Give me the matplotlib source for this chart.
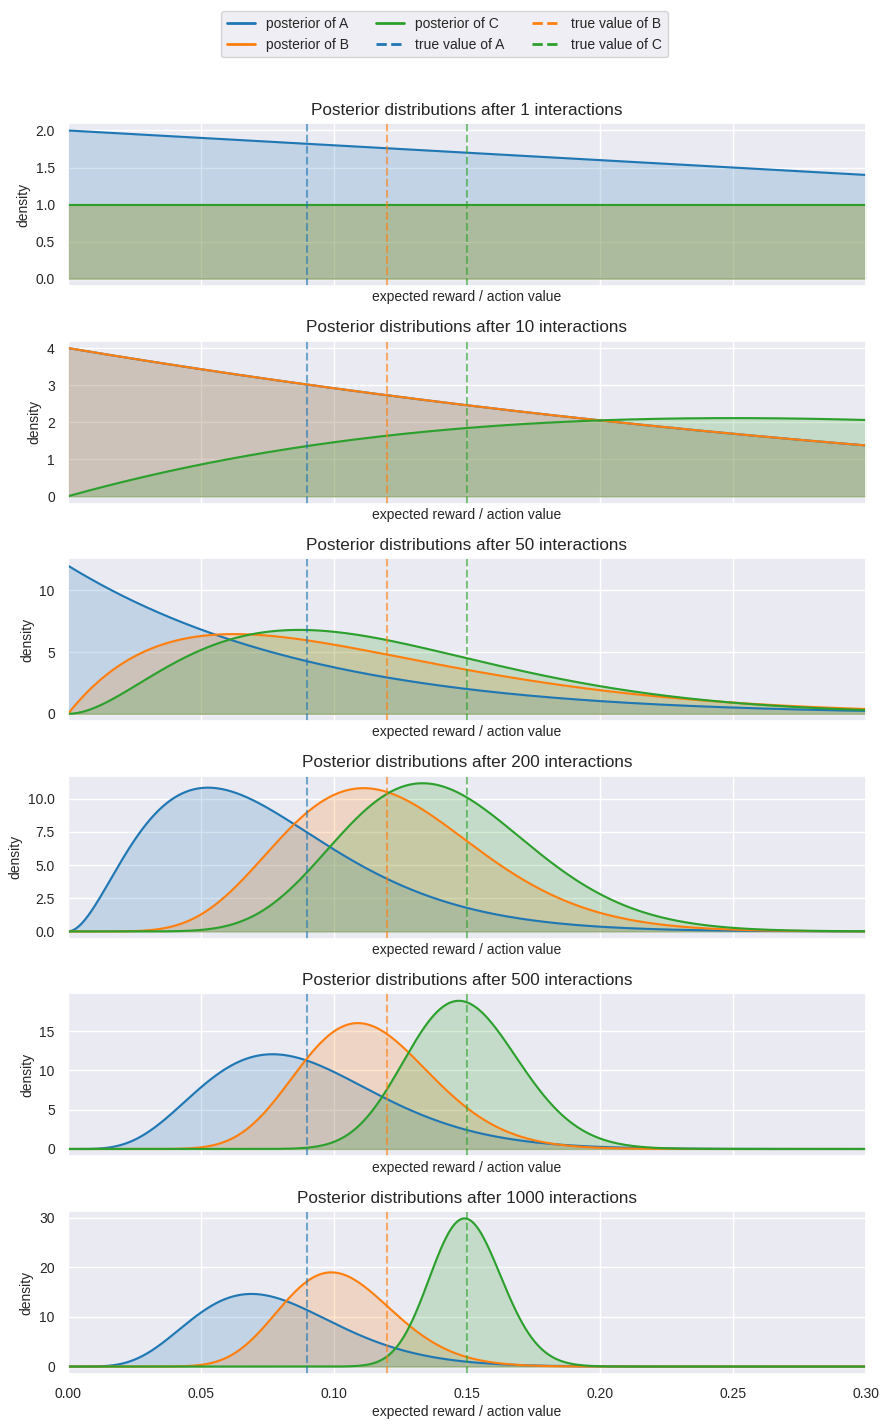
import math
import numpy as np
import matplotlib
matplotlib.use("Agg")
import matplotlib.pyplot as plt
import seaborn as sns
from matplotlib.lines import Line2D

# -------------------------------
# posterior Beta(alpha, beta) parameters
# -------------------------------
interactions = [1, 10, 50, 200, 500, 1000]
arms = ['A', 'B', 'C']
alpha_A = [1, 1, 1, 3, 6, 7]
beta_A = [2, 4, 12, 37, 61, 82]
alpha_B = [1, 1, 2, 9, 18, 21]
beta_B = [1, 4, 16, 65, 140, 183]
alpha_C = [1, 2, 3, 13, 42, 107]
beta_C = [1, 4, 22, 79, 239, 606]
true_values = [0.09, 0.12, 0.15]

colors = ['#1f77b4', '#ff7f0e', '#2ca02c']


def beta_pdf(x, a, b):
    log_norm = math.lgamma(a + b) - math.lgamma(a) - math.lgamma(b)
    with np.errstate(divide='ignore', invalid='ignore'):
        y = np.exp(log_norm + (a - 1) * np.log(x) + (b - 1) * np.log1p(-x))
    if a == 1:
        y[x == 0] = math.exp(log_norm)
    else:
        y[x == 0] = 0.0
    return y


sns.set_theme(style='darkgrid')
plt.rcParams['font.family'] = ['Liberation Sans', 'DejaVu Sans']

fig, axes = plt.subplots(6, 1, figsize=(8.89, 14.26), dpi=100, sharex=True)
fig.subplots_adjust(left=0.0765, right=0.974, top=0.9137, bottom=0.0365, hspace=0.335)

x = np.linspace(0, 0.3, 800)
params = [(alpha_A, beta_A), (alpha_B, beta_B), (alpha_C, beta_C)]

for i, ax in enumerate(axes):
    for j, (al, be) in enumerate(params):
        y = beta_pdf(x, al[i], be[i])
        ax.plot(x, y, color=colors[j], linewidth=1.5)
        ax.fill_between(x, 0, y, color=colors[j], alpha=0.2)
    for j, tv in enumerate(true_values):
        ax.axvline(tv, color=colors[j], linestyle='--', linewidth=1.5, alpha=0.6)
    ax.set_xlim(0, 0.3)
    ax.set_title(f'Posterior distributions after {interactions[i]} interactions', fontsize=12.3)
    ax.set_ylabel('density', fontsize=10)
    ax.set_xlabel('expected reward / action value', fontsize=10, labelpad=3)
    ax.xaxis.set_tick_params(labelbottom=(i == len(axes) - 1))
    ax.tick_params(labelsize=10)

handles = [Line2D([], [], color=colors[0], lw=2, label='posterior of A'),
           Line2D([], [], color=colors[1], lw=2, label='posterior of B'),
           Line2D([], [], color=colors[2], lw=2, label='posterior of C'),
           Line2D([], [], color=colors[0], lw=2, ls='--', label='true value of A'),
           Line2D([], [], color=colors[1], lw=2, ls='--', label='true value of B'),
           Line2D([], [], color=colors[2], lw=2, ls='--', label='true value of C')]
fig.legend(handles=handles, loc='upper center', bbox_to_anchor=(0.5, 0.997), ncol=3, fontsize=10)

fig.savefig('out.png', dpi=100)
